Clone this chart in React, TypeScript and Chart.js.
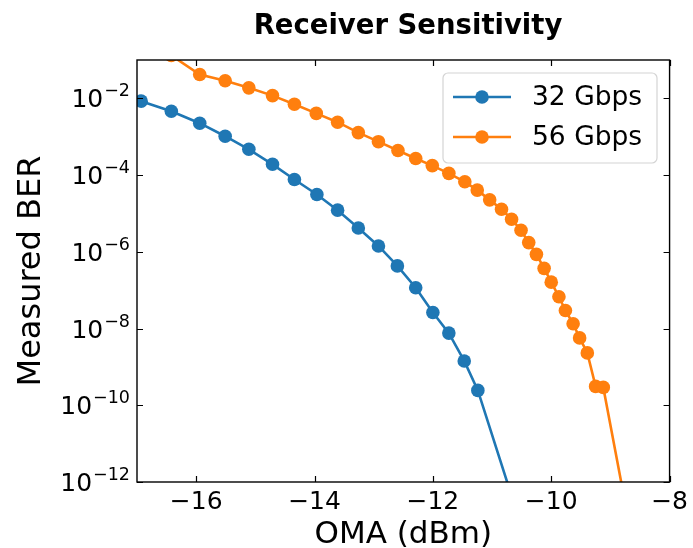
import React, { useEffect, useRef } from 'react';
import { Chart, registerables } from 'chart.js';

Chart.register(...registerables);

// Data (OMA in dBm, measured BER)
const oma32 = [-16.93, -16.42, -15.94, -15.51, -15.11, -14.71, -14.34, -13.96, -13.61, -13.26, -12.92, -12.6, -12.29, -12.0, -11.73, -11.47, -11.24, -10.5];
const ber32 = [8.45e-3, 4.62e-3, 2.25e-3, 1.03e-3, 4.7e-4, 1.91e-4, 7.7e-5, 3.13e-5, 1.22e-5, 4.19e-6, 1.42e-6, 4.3e-7, 1.16e-7, 2.62e-8, 7.6e-9, 1.43e-9, 2.44e-10, 6.6e-14];

const oma56 = [-16.42, -15.94, -15.51, -15.11, -14.71, -14.34, -13.97, -13.61, -13.26, -12.92, -12.59, -12.29, -12.01, -11.73, -11.46, -11.25, -11.04, -10.84, -10.67, -10.51, -10.38, -10.25, -10.12, -10.0, -9.87, -9.76, -9.63, -9.52, -9.39, -9.25, -9.12, -8.7];
const ber56 = [0.1315, 0.0419, 0.0287, 0.0188, 0.0118, 7.05e-3, 4.06e-3, 2.39e-3, 1.28e-3, 7.43e-4, 4.38e-4, 2.7e-4, 1.77e-4, 1.11e-4, 6.68e-5, 4.06e-5, 2.26e-5, 1.29e-5, 7.08e-6, 3.65e-6, 1.74e-6, 8.6e-7, 3.71e-7, 1.62e-7, 6.75e-8, 2.96e-8, 1.33e-8, 5.71e-9, 2.32e-9, 3.1e-10, 2.92e-10, 1.1e-13];

const seriesLabels = ['32 Gbps', '56 Gbps'];
const seriesColors = ['#1f77b4', '#ff7f0e'];

const xTicks = [-16, -14, -12, -10, -8];
const yTicks = [1e-12, 1e-10, 1e-8, 1e-6, 1e-4, 1e-2];

const titleText = 'Receiver Sensitivity';
const xTitle = 'OMA (dBm)';
const yTitle = 'Measured BER';

const FONT = '"DejaVu Sans", sans-serif';
const LINE_W = 2.6;
const MARK_R = 6.8;

export default function App() {
  const ref = useRef<HTMLCanvasElement>(null);

  useEffect(() => {
    const canvas = ref.current;
    if (!canvas) return;

    const mplPlugin = {
      id: 'mplDecor',
      afterDraw(chart: any) {
        const ctx = chart.ctx as CanvasRenderingContext2D;
        const { left, right, top, bottom } = chart.chartArea;
        const xs = chart.scales.x;
        const ys = chart.scales.y;
        ctx.save();

        // frame
        ctx.strokeStyle = '#000';
        ctx.lineWidth = 1.4;
        ctx.strokeRect(left, top, right - left, bottom - top);

        // inward ticks on all sides
        const tl = 6;
        ctx.beginPath();
        xTicks.forEach((v) => {
          const px = Math.round(xs.getPixelForValue(v)) + 0.5;
          ctx.moveTo(px, bottom);
          ctx.lineTo(px, bottom - tl);
          ctx.moveTo(px, top);
          ctx.lineTo(px, top + tl);
        });
        yTicks.forEach((v) => {
          const py = Math.round(ys.getPixelForValue(v)) + 0.5;
          ctx.moveTo(left, py);
          ctx.lineTo(left + tl, py);
          ctx.moveTo(right, py);
          ctx.lineTo(right - tl, py);
        });
        ctx.lineWidth = 1.2;
        ctx.stroke();

        // y tick labels as 10^exp
        ctx.fillStyle = '#000';
        ctx.textAlign = 'left';
        ctx.textBaseline = 'alphabetic';
        const baseSize = 25;
        const supSize = 17.5;
        yTicks.forEach((v) => {
          const py = ys.getPixelForValue(v);
          const exp = Math.round(Math.log10(v));
          const supTxt = (exp < 0 ? '\u2212' : '') + Math.abs(exp);
          ctx.font = `${supSize}px ${FONT}`;
          const sw = ctx.measureText(supTxt).width;
          ctx.font = `${baseSize}px ${FONT}`;
          const bw = ctx.measureText('10').width;
          const xr = left - 7;
          const base = py + 9;
          ctx.fillText('10', xr - sw - bw - 1, base);
          ctx.font = `${supSize}px ${FONT}`;
          ctx.fillText(supTxt, xr - sw, base - 11);
        });

        // x axis title
        ctx.font = `31px ${FONT}`;
        ctx.textAlign = 'center';
        ctx.fillText(xTitle, (left + right) / 2, 543);

        // y axis title
        ctx.save();
        ctx.font = `32px ${FONT}`;
        ctx.translate(40, (top + bottom) / 2);
        ctx.rotate(-Math.PI / 2);
        ctx.textAlign = 'center';
        ctx.fillText(yTitle, 0, 0);
        ctx.restore();

        // chart title
        ctx.font = `bold 27.5px "DejaVu Sans", sans-serif`;
        ctx.textAlign = 'center';
        ctx.fillText(titleText, 408, 34);

        // legend
        const lx = 443, ly = 73, lw = 214, lh = 90, r = 5;
        ctx.beginPath();
        ctx.moveTo(lx + r, ly);
        ctx.arcTo(lx + lw, ly, lx + lw, ly + lh, r);
        ctx.arcTo(lx + lw, ly + lh, lx, ly + lh, r);
        ctx.arcTo(lx, ly + lh, lx, ly, r);
        ctx.arcTo(lx, ly, lx + lw, ly, r);
        ctx.closePath();
        ctx.fillStyle = 'rgba(255,255,255,0.8)';
        ctx.fill();
        ctx.strokeStyle = '#d4d4d4';
        ctx.lineWidth = 1.2;
        ctx.stroke();

        const rows = [97, 137];
        seriesLabels.forEach((lab, i) => {
          const yy = rows[i];
          ctx.strokeStyle = seriesColors[i];
          ctx.lineWidth = LINE_W;
          ctx.beginPath();
          ctx.moveTo(453, yy);
          ctx.lineTo(511, yy);
          ctx.stroke();
          ctx.fillStyle = seriesColors[i];
          ctx.beginPath();
          ctx.arc(482, yy, MARK_R, 0, Math.PI * 2);
          ctx.fill();
          ctx.fillStyle = '#000';
          ctx.font = `26.5px ${FONT}`;
          ctx.textAlign = 'left';
          ctx.textBaseline = 'middle';
          ctx.fillText(lab, 532, yy + 1);
        });

        ctx.restore();
      },
    };

    const mkDs = (i: number, xsArr: number[], ysArr: number[]) => ({
      label: seriesLabels[i],
      data: xsArr.map((x, k) => ({ x, y: ysArr[k] })),
      borderColor: seriesColors[i],
      backgroundColor: seriesColors[i],
      pointBackgroundColor: seriesColors[i],
      pointBorderWidth: 0,
      pointRadius: MARK_R,
      borderWidth: LINE_W,
      tension: 0,
    });

    const chart = new Chart(canvas, {
      type: 'line',
      data: {
        datasets: [mkDs(0, oma32, ber32), mkDs(1, oma56, ber56)],
      },
      options: {
        animation: false,
        responsive: false,
        maintainAspectRatio: false,
        devicePixelRatio: 1,
        layout: { padding: { top: 60, right: 23, left: 0, bottom: 0 } },
        plugins: {
          legend: { display: false },
          title: { display: false },
          tooltip: { enabled: false },
        },
        scales: {
          x: {
            type: 'linear',
            min: -17,
            max: -8,
            grid: { display: false, drawTicks: false },
            border: { display: false },
            ticks: {
              color: '#000',
              font: { family: 'DejaVu Sans', size: 25 },
              padding: 5,
              maxRotation: 0,
              autoSkip: false,
              callback: (v: any) => String(v).replace('-', '\u2212'),
            },
            afterBuildTicks: (s: any) => {
              s.ticks = xTicks.map((value) => ({ value }));
            },
            afterFit: (s: any) => {
              s.height = 66;
            },
          },
          y: {
            type: 'logarithmic',
            min: 1e-12,
            max: 0.1,
            grid: { display: false, drawTicks: false },
            border: { display: false },
            ticks: { display: false },
            afterBuildTicks: (s: any) => {
              s.ticks = yTicks.map((value) => ({ value }));
            },
            afterFit: (s: any) => {
              s.width = 137;
            },
          },
        },
      },
      plugins: [mplPlugin],
    });

    return () => chart.destroy();
  }, []);

  return (
    <div style={{ position: 'fixed', left: 0, top: 0, width: 693, height: 548, background: '#fff' }}>
      <canvas ref={ref} width={693} height={548} style={{ width: 693, height: 548 }} />
    </div>
  );
}
